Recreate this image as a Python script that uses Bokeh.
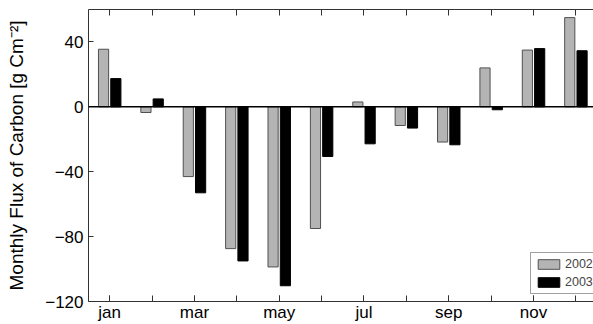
from bokeh.plotting import figure
from bokeh.models import (ColumnDataSource, FixedTicker, LinearAxis, Span,
                          Legend, LegendItem, Range1d)
from bokeh.transform import dodge
from bokeh.embed import file_html
from bokeh.resources import INLINE

months = [1, 2, 3, 4, 5, 6, 7, 8, 9, 10, 11, 12]
label_months = [1, 3, 5, 7, 9, 11]
tick_labels = ["jan", "mar", "may", "jul", "sep", "nov"]
flux_2002 = [35.5, -3.5, -43.0, -87.4, -98.7, -75.0, 3.0, -11.5, -21.7, 24.0, 35.0, 55.0]
flux_2003 = [17.4, 4.9, -53.0, -95.0, -110.3, -30.6, -22.8, -13.1, -23.4, -1.8, 35.9, 34.6]
y_ticks = [-120, -80, -40, 0, 40]

src = ColumnDataSource(dict(month=months, y2002=flux_2002, y2003=flux_2003))

p = figure(width=593, height=324, output_backend="svg", toolbar_location=None,
           x_range=Range1d(0.5, 12.415), y_range=Range1d(-120, 60),
           min_border_left=88, min_border_right=0, min_border_top=9,
           min_border_bottom=22, outline_line_color=None,
           background_fill_color="white", border_fill_color="white")
p.xgrid.visible = False
p.ygrid.visible = False

r1 = p.vbar(x=dodge("month", -0.145, range=p.x_range), top="y2002", bottom=0,
            width=0.24, source=src, fill_color="#b4b4b4", line_color="#505050",
            line_width=1)
r2 = p.vbar(x=dodge("month", 0.145, range=p.x_range), top="y2003", bottom=0,
            width=0.24, source=src, fill_color="black", line_color="black",
            line_width=1)

p.add_layout(Span(location=0, dimension="width", line_color="black", line_width=1.5))

font = "Liberation Sans"
axis_col = "#333333"

xa = p.xaxis[0]
xa.ticker = FixedTicker(ticks=label_months, minor_ticks=months)
xa.major_label_overrides = {m: lab for m, lab in zip(label_months, tick_labels)}
xa.major_tick_in = 6
xa.major_tick_out = 0
xa.minor_tick_in = 6
xa.minor_tick_out = 0
xa.major_label_standoff = 1
xa.major_label_text_font = font
xa.major_label_text_font_size = "17px"
xa.major_label_text_color = "black"
xa.axis_line_color = axis_col
xa.major_tick_line_color = axis_col
xa.minor_tick_line_color = axis_col

ya = p.yaxis[0]
ya.ticker = FixedTicker(ticks=y_ticks)
ya.major_tick_in = 5
ya.major_tick_out = 0
ya.minor_tick_line_color = None
ya.major_label_standoff = 5
ya.major_label_text_font = font
ya.major_label_text_font_size = "17px"
ya.major_label_text_color = "black"
ya.axis_line_color = axis_col
ya.major_tick_line_color = axis_col
ya.axis_label = "Monthly Flux of Carbon [g Cm\u207b\u00b2]"
ya.axis_label_text_font = font
ya.axis_label_text_font_size = "19px"
ya.axis_label_text_font_style = "normal"
ya.axis_label_text_color = "black"
ya.axis_label_standoff = 15

top = LinearAxis(ticker=FixedTicker(ticks=[], minor_ticks=months),
                 major_label_standoff=0, major_tick_in=0, major_tick_out=0,
                 minor_tick_in=6, minor_tick_out=0,
                 axis_line_color=axis_col, minor_tick_line_color=axis_col)
p.add_layout(top, "above")

legend = Legend(items=[LegendItem(label="2002", renderers=[r1]),
                       LegendItem(label="2003", renderers=[r2])],
                location=(442, 7), glyph_width=27, glyph_height=12,
                label_height=12, spacing=4, padding=4, margin=0,
                label_standoff=3, label_text_font=font,
                label_text_font_size="12.5px", border_line_color="#444444",
                border_line_width=1, background_fill_alpha=1.0)
p.add_layout(legend)

open("out.html", "w").write(file_html(p, INLINE))
